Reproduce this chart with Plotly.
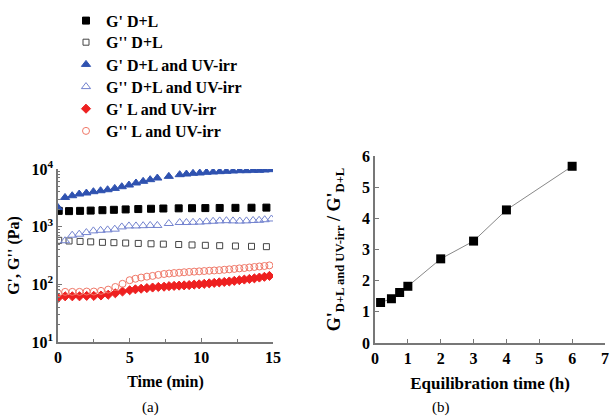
import plotly.graph_objects as go

# ---------------- data: panel (a) ----------------
t_sq = [0.05, 0.77, 1.54, 2.28, 3.1, 3.9, 4.72, 5.6, 6.49, 7.35, 8.42, 9.35, 10.28, 11.28, 12.38, 13.5, 14.54]
g1_DL = [1880, 1860, 1880, 1900, 1930, 1960, 1990, 2020, 2045, 2065, 2080, 2090, 2100, 2110, 2120, 2130, 2140]
g2_DL = [580, 565, 555, 545, 535, 528, 520, 512, 505, 498, 490, 482, 475, 468, 462, 456, 450]

t_tri = [0, 0.49, 0.99, 1.48, 1.98, 2.47, 2.97, 3.46, 3.96, 4.45, 4.95, 5.44, 5.94, 6.43, 6.93,
         7.73, 8.49, 8.96, 9.42, 9.89, 10.36, 10.82, 11.28, 11.75, 12.21, 12.68, 13.15, 13.61, 14.03, 14.42, 14.89]
g1_DLUV = [2140, 3210, 3440, 3680, 3830, 4040, 4200, 4370, 4610, 4930, 5270, 5720, 6110, 6530, 6970,
           7450, 7970, 8180, 8410, 8520, 8750, 8870, 8990, 9110, 9230, 9350, 9350, 9480, 9480, 9610, 9740]
t_tri2 = t_tri[1:]
g2_DLUV = [570, 711, 740, 790, 845, 865, 880, 905, 990, 1030, 1030, 1040, 1050, 1050,
           1135, 1180, 1180, 1190, 1200, 1220, 1240, 1260, 1270, 1260, 1250, 1260, 1280, 1290, 1320, 1360]

t_red = [0, 0.5, 1.0, 1.5, 2.0, 2.5, 3.0, 3.5, 4.0, 4.5, 5.0, 5.4, 5.8, 6.2, 6.6, 7.0, 7.4, 7.75, 8.1,
         8.45, 8.8, 9.15, 9.5, 9.85, 10.2, 10.55, 10.9, 11.25, 11.6, 11.95, 12.3, 12.65, 13.0, 13.35,
         13.7, 14.05, 14.4, 14.75]
g1_LUV = [58, 62, 62, 62, 63, 63, 64, 66, 70, 75, 79, 82, 84, 86, 88, 90, 91, 93, 94,
          95, 96, 97, 99, 100, 102, 104, 106, 108, 110, 112, 115, 118, 121, 124,
          127, 131, 135, 140]
g2_LUV = [70, 74, 74, 74, 75, 75, 77, 81, 90, 102, 118, 125, 131, 136, 140, 146, 151, 154, 157,
          159, 162, 164, 166, 168, 170, 172, 174, 176, 179, 182, 185, 189, 192, 196,
          200, 204, 208, 213]

# ---------------- data: panel (b) ----------------
eq_time = [0.17, 0.5, 0.75, 1.0, 2.0, 3.0, 4.0, 6.0]
ratio = [1.3, 1.42, 1.62, 1.82, 2.7, 3.27, 4.27, 5.67]

y_tickvals = [10, 100, 1000, 10000]
y_ticktext = ["10<sup>1</sup>", "10<sup>2</sup>", "10<sup>3</sup>", "10<sup>4</sup>"]

FONT = "Liberation Serif, Times New Roman, serif"
AXC = "#777777"
W, H, MR = 611, 420, 6
PW = W - MR  # plot-area width in px

def px(x):
    return x / PW

def py(y):
    return 1 - y / H

fig = go.Figure()

legend_rows = [20.7, 42.3, 64.5, 86.7, 108.8, 131]

def add(x, y, name, symbol, color, size, k):
    lname = "legend" if k == 0 else "legend%d" % (k + 1)
    fig.add_trace(go.Scatter(x=x, y=y, mode="markers", name="<b>%s</b>" % name,
                             marker=dict(symbol=symbol, color=color, size=size,
                                         line=dict(color=color, width=1)),
                             xaxis="x", yaxis="y", legend=lname))

add(t_sq, g1_DL, "G' D+L", "square", "black", 7, 0)
add(t_sq, g2_DL, "G'' D+L", "square-open", "#444444", 6, 1)
add(t_tri, g1_DLUV, "G' D+L and UV-irr", "triangle-up", "#2f52b0", 8, 2)
add(t_tri2, g2_DLUV, "G'' D+L and UV-irr", "triangle-up-open", "#7383cf", 8, 3)
add(t_red, g1_LUV, "G' L and UV-irr", "diamond", "#ee2020", 7, 4)
add(t_red, g2_LUV, "G'' L and UV-irr", "circle-open", "#f07868", 7, 5)

fig.add_trace(go.Scatter(x=eq_time, y=ratio, mode="lines+markers", showlegend=False,
                         line=dict(color="#888888", width=1),
                         marker=dict(symbol="square", color="black", size=9),
                         xaxis="x2", yaxis="y2"))

tickfont = dict(family=FONT, size=16, color="black")
titlefont = dict(family=FONT, size=16, color="black")

legends = {}
for k, ry in enumerate(legend_rows):
    lname = "legend" if k == 0 else "legend%d" % (k + 1)
    legends[lname] = dict(x=px(66), y=py(ry), xanchor="left", yanchor="middle",
                          font=dict(family=FONT, size=16, color="black"),
                          bgcolor="rgba(0,0,0,0)", itemwidth=30)

fig.update_layout(
    width=W, height=H, autosize=False,
    margin=dict(l=0, r=MR, t=0, b=0, autoexpand=False),
    paper_bgcolor="white", plot_bgcolor="white",
    font=dict(family=FONT, color="black"),
    xaxis=dict(domain=[px(58), px(273)], range=[0, 15], tickvals=[0, 5, 10, 15],
               ticktext=["<b>0</b>", "<b>5</b>", "<b>10</b>", "<b>15</b>"],
               ticks="inside", ticklen=4, tickcolor=AXC,
               minor=dict(tickvals=[2.5, 7.5, 12.5], ticks="inside", ticklen=3, tickcolor=AXC),
               showline=True, linecolor=AXC, linewidth=1.5, showgrid=False, zeroline=False,
               tickfont=tickfont, anchor="y",
               title=dict(text="<b>Time (min)</b>", font=titlefont, standoff=11)),
    yaxis=dict(domain=[py(342), py(169)], type="log", range=[1, 4],
               tickvals=y_tickvals, ticktext=["<b>%s</b>" % s for s in y_ticktext],
               ticks="inside", ticklen=4, tickcolor=AXC,
               minor=dict(tickvals=[20, 30, 40, 50, 60, 70, 80, 90, 200, 300, 400, 500, 600, 700, 800, 900,
                                    2000, 3000, 4000, 5000, 6000, 7000, 8000, 9000],
                          ticks="inside", ticklen=2, tickcolor=AXC),
               showline=True, linecolor=AXC, linewidth=1.5, showgrid=False, zeroline=False,
               tickfont=tickfont, anchor="x",
               title=dict(text="<b>G', G'' (Pa)</b>", font=titlefont, standoff=8)),
    xaxis2=dict(domain=[px(375), 1.0], range=[0, 7], tickvals=list(range(8)),
                ticktext=["<b>%d</b>" % v for v in range(8)],
                ticks="inside", ticklen=4, tickcolor=AXC,
                showline=True, linecolor=AXC, linewidth=1.5, showgrid=False, zeroline=False,
                tickfont=tickfont, anchor="y2", ticklabeloverflow="allow",
                title=dict(text="<b>Equilibration time (h)</b>",
                           font=dict(family=FONT, size=17, color="black"), standoff=11)),
    yaxis2=dict(domain=[py(343), py(156)], range=[0, 6], tickvals=list(range(7)),
                ticktext=["<b>%d</b>" % v for v in range(7)],
                ticks="inside", ticklen=4, tickcolor=AXC,
                showline=True, linecolor=AXC, linewidth=1.5, showgrid=False, zeroline=False,
                tickfont=tickfont, anchor="x2",
                title=dict(text="<b>G'<sub>D+L and UV-irr</sub> / G'<sub>D+L</sub></b>",
                           font=dict(family=FONT, size=18, color="black"), standoff=17)),
    annotations=[
        dict(text="(a)", x=px(140), y=py(407), xref="paper", yref="paper", yanchor="middle",
             showarrow=False, font=dict(family=FONT, size=15, color="black")),
        dict(text="(b)", x=px(452), y=py(407), xref="paper", yref="paper", yanchor="middle",
             showarrow=False, font=dict(family=FONT, size=15, color="black")),
    ],
    **legends,
)

fig.write_html("out.html", config={"displayModeBar": False},
               post_script="document.body.style.margin='0';document.body.style.padding='0';")
